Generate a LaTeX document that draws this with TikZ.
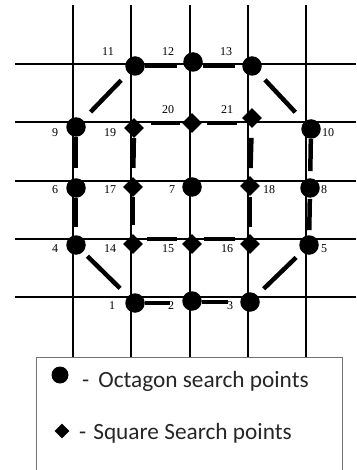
\documentclass[tikz,border=0pt]{standalone}
\usepackage{fontspec}
\setmainfont{Liberation Serif}
\newfontfamily\legendfont{Carlito}
\usetikzlibrary{shapes.geometric}
\begin{document}
\begin{tikzpicture}[x=1pt,y=-1pt,
  gridline/.style={line width=1.6pt, black},
  oct/.style={circle, fill=black, minimum size=19.5pt, inner sep=0pt},
  sqpt/.style={diamond, fill=black, minimum size=20pt, inner sep=0pt},
  seg/.style={line width=4.5pt, black},
  lbl/.style={font=\fontsize{12}{12}\selectfont, inner sep=0pt},
  legtxt/.style={font=\legendfont\fontsize{23.3}{23.3}\selectfont, anchor=base west, inner sep=0pt, text=black!85}]
\useasboundingbox (0,0) rectangle (356,470);
% grid
\foreach \x in {73,131,190,248,306} \draw[gridline] (\x,5) -- (\x,357);
\foreach \y in {64,122,181,239,297} \draw[gridline] (15,\y) -- (356,\y);
% legend box
\draw[black!55, line width=1pt] (36,472) -- (36,357) -- (342,357) -- (342,472);
% octagon points
\node[oct] (n1) at (135,303) {};
\node[oct] (n2) at (192,301) {};
\node[oct] (n3) at (250,302) {};
\node[oct] (n4) at (76,245) {};
\node[oct] (n5) at (309,245) {};
\node[oct] (n6) at (76,188) {};
\node[oct] (n7) at (192,187) {};
\node[oct] (n8) at (310,188) {};
\node[oct] (n9) at (76,127) {};
\node[oct] (n10) at (311,129) {};
\node[oct] (n11) at (135,66) {};
\node[oct] (n12) at (193,62) {};
\node[oct] (n13) at (252,66) {};
% square points
\node[sqpt] (n14) at (133,244) {};
\node[sqpt] (n15) at (192,244) {};
\node[sqpt] (n16) at (250,244) {};
\node[sqpt] (n17) at (133,187) {};
\node[sqpt] (n18) at (250,186) {};
\node[sqpt] (n19) at (134,128) {};
\node[sqpt] (n20) at (192,123) {};
\node[sqpt] (n21) at (252,118) {};
% octagon connectors
\draw[seg, shorten >=16pt] (n11) -- (n11 -| n12);
\draw[seg, shorten <=10pt, shorten >=7pt] (n13 -| n12) -- (n13);
\draw[seg, shorten <=10pt, shorten >=11pt] (n11) -- (n9);
\draw[seg, shorten <=9pt, shorten >=13pt] (n13) -- (n10);
\draw[seg, shorten >=10pt] (n9) -- (n6);
\draw[seg, shorten >=8pt] (n6) -- (n4);
\draw[seg, shorten <=6pt, shorten >=11pt] (n4) -- (n1);
\draw[seg, shorten >=22pt] (n1) -- (n1 -| n2);
\draw[seg, shorten <=10pt, shorten >=12pt] (n3 -| n2) -- (n3);
\draw[seg, shorten <=9pt, shorten >=8pt] (n3) -- (n5);
\draw[seg, shorten <=5pt, shorten >=1pt] (n5) -- (n8);
\draw[seg, shorten >=7pt] (n10) -- (n8);
% square connectors
\draw[seg, shorten >=9pt] (n19) -- (n17);
\draw[seg, shorten >=9pt] (n17) -- (n14);
\draw[seg, shorten <=17pt, shorten >=2pt] (n20 -| n19) -- (n20);
\draw[seg, shorten <=5pt, shorten >=15pt] (n20) -- (n20 -| n21);
\draw[seg, shorten <=10pt, shorten >=8pt] (n21) -- (n18);
\draw[seg, line width=3pt, shorten <=1pt, shorten >=7pt] (n18) -- (n16);
\draw[seg, shorten <=14pt, shorten >=15pt] ([yshift=5pt]n14.center) -- ([yshift=5pt]n15.center);
\draw[seg, shorten <=12pt, shorten >=15pt] ([yshift=5pt]n15.center) -- ([yshift=5pt]n16.center);
% labels
\node[lbl] (l1) at (112,306) {1};
\node[lbl] (l2) at (171,306) {2};
\node[lbl] (l3) at (230,306) {3};
\node[lbl] (l4) at (55,249) {4};
\node[lbl] (l5) at (324,249) {5};
\node[lbl] (l6) at (55,190) {6};
\node[lbl] (l7) at (172,190) {7};
\node[lbl] (l8) at (324,190) {8};
\node[lbl] (l9) at (55,133) {9};
\node[lbl] (l10) at (328,133) {10};
\node[lbl] (l11) at (108,52) {11};
\node[lbl] (l12) at (168,52) {12};
\node[lbl] (l13) at (226,52) {13};
\node[lbl] (l14) at (110,249) {14};
\node[lbl] (l15) at (168,249) {15};
\node[lbl] (l16) at (227,249) {16};
\node[lbl] (l17) at (110,190) {17};
\node[lbl] (l18) at (269,190) {18};
\node[lbl] (l19) at (110,133) {19};
\node[lbl] (l20) at (168,110) {20};
\node[lbl] (l21) at (227,110) {21};
% legend
\node[oct, minimum size=17pt] (lc) at (60,375) {};
\node[sqpt, minimum size=15pt] (ld) at (62,431) {};
\node[legtxt] (t1) at (82,387) {-\hspace{9pt}Octagon search points};
\node[legtxt] (t2) at (79,439) {-\hspace{7pt}Square Search points};
\end{tikzpicture}
\end{document}
